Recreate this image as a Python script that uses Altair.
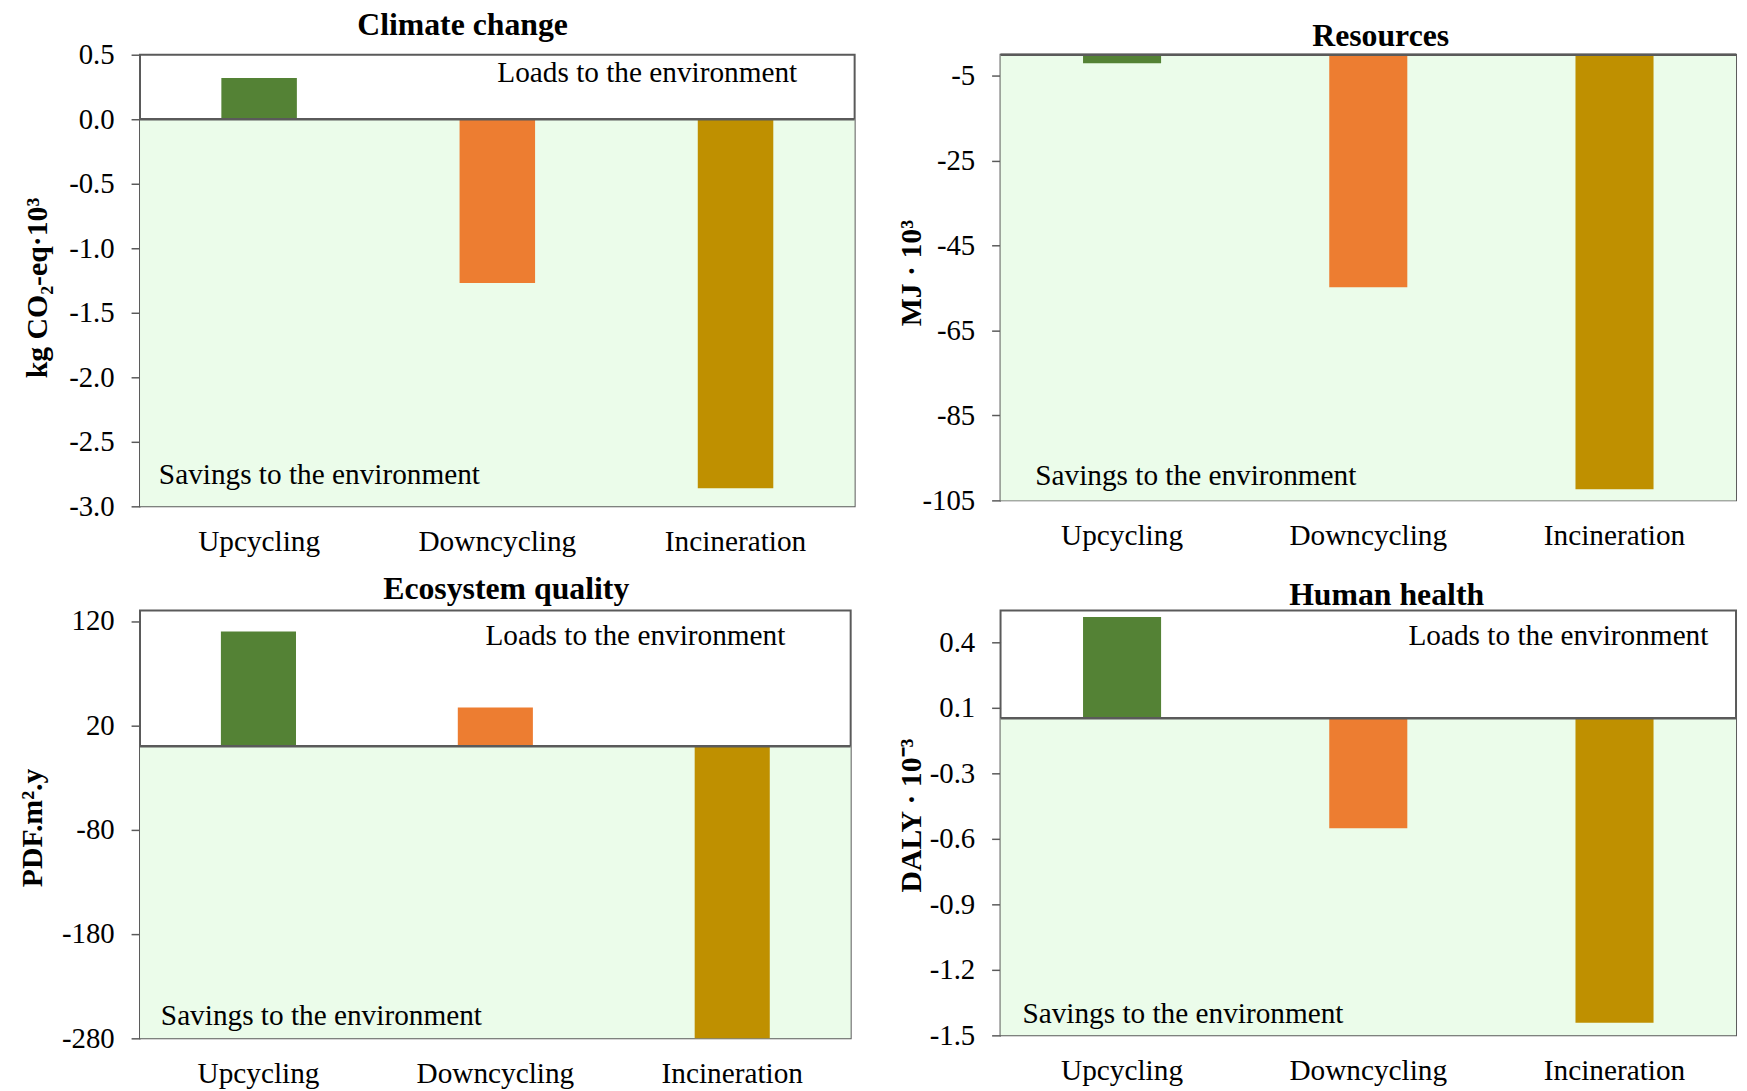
import altair as alt
import pandas as pd

# ---------------- data ----------------
categories = ["Upcycling", "Downcycling", "Incineration"]
bar_colors = ["#548235", "#ED7D31", "#BF9000"]

panel_titles = ["Climate change", "Resources", "Ecosystem quality", "Human health"]
y_titles = ["kg CO₂-eq·10³", "MJ · 10³", "PDF.m².y", "DALY · 10⁻³"]

climate_values = [0.32, -1.27, -2.86]
resources_values = [-2.0, -54.8, -102.4]
ecosystem_values = [110.0, 37.0, -280.0]
health_values = [0.48, -0.52, -1.44]

climate_domain = [-3.0, 0.5]
resources_domain = [-105, 0]
ecosystem_domain = [-280, 130]
health_domain = [-1.5, 0.51]

climate_ticks = [-3.0, -2.5, -2.0, -1.5, -1.0, -0.5, 0.0, 0.5]
resources_ticks = [-105, -85, -65, -45, -25, -5]
ecosystem_ticks = [-280, -180, -80, 20, 120]
health_ticks = [-1.5, -1.19, -0.88, -0.57, -0.26, 0.05, 0.36]

loads_text = "Loads to the environment"
savings_text = "Savings to the environment"

# ---------------- style ----------------
FONT = "Liberation Serif"
GREEN_BG = "#EBFCEA"
FRAME = "#5A5A5A"
FS = 29.5


def text_layer(label, pos, align, size=FS, weight="normal"):
    return alt.Chart(pd.DataFrame({"t": [label]})).mark_text(
        align=align, baseline="alphabetic", font=FONT, fontSize=size,
        fontWeight=weight, color="black"
    ).encode(x=alt.value(pos[0]), y=alt.value(pos[1]), text="t:N")


def make_panel(title, ytitle, values, domain, ticks, fmt, width, height,
               title_pos, ext, ytitle_shift, outer_pad, loads_pos, savings_pos):
    df = pd.DataFrame({"category": categories, "value": values, "base": [0] * len(values)})
    yscale = alt.Scale(domain=domain, nice=False, zero=False)
    yaxis = alt.Axis(
        title=ytitle, values=ticks,
        labelExpr=f"replace(format(datum.value, '{fmt}'), '\u2212', '-')",
        titleFont=FONT, titleFontSize=30, titleFontWeight="bold", titleColor="black",
        titlePadding=0, minExtent=ext, maxExtent=ext, titleY=height / 2 + ytitle_shift,
        tickSize=9, tickColor=FRAME, tickWidth=1.5,
        domain=False, grid=False,
        labelFont=FONT, labelFontSize=29, labelColor="black", labelPadding=17,
    )
    bg = alt.Chart(pd.DataFrame({"lo": [domain[0]], "hi": [0]})).mark_rect(
        color=GREEN_BG
    ).encode(
        y=alt.Y("lo:Q", scale=yscale, axis=yaxis),
        y2="hi:Q",
    )
    bars = alt.Chart(df).mark_bar().encode(
        x=alt.X("category:N", sort=categories,
                scale=alt.Scale(paddingInner=0.683, paddingOuter=outer_pad),
                axis=alt.Axis(title=None, ticks=False, domain=False, labelAngle=0,
                              labelFont=FONT, labelFontSize=FS, labelColor="black",
                              labelPadding=21)),
        y=alt.Y("value:Q", scale=yscale, axis=yaxis),
        y2="base:Q",
        color=alt.Color("category:N", scale=alt.Scale(domain=categories, range=bar_colors),
                        legend=None),
    )
    zero = alt.Chart(pd.DataFrame({"zero": [0]})).mark_rule(
        color=FRAME, strokeWidth=2.5
    ).encode(y=alt.Y("zero:Q", scale=yscale, axis=yaxis))
    layers = [bg, bars, zero]
    if loads_pos is not None:
        layers.append(text_layer(loads_text, loads_pos, "left"))
    if savings_pos is not None:
        layers.append(text_layer(savings_text, savings_pos, "left"))
    layers.append(text_layer(title, title_pos, "center", size=32, weight="bold"))
    return alt.layer(*layers).properties(width=width, height=height)


p1 = make_panel(panel_titles[0], y_titles[0], climate_values, climate_domain, climate_ticks,
                ".1f", 720, 455, (325, -20), 88, 7, 0.3415, (360, 27), (19, 432))
p2 = make_panel(panel_titles[1], y_titles[1], resources_values, resources_domain, resources_ticks,
                "d", 741, 449, (383, -9), 75, -5, 0.335, None, (35, 434))
p3 = make_panel(panel_titles[2], y_titles[2], ecosystem_values, ecosystem_domain, ecosystem_ticks,
                "d", 716, 431, (369, -12), 93, 3, 0.3415, (348, 35), (21, 418))
p4 = make_panel(panel_titles[3], y_titles[3], health_values, health_domain, health_ticks,
                ".1f", 741, 428, (389, -6), 75, -8, 0.335, (411, 35), (22, 416))

chart = alt.concat(p1, p2, p3, p4, columns=2, spacing={"row": 105, "column": 147},
                   bounds="flush").configure(
    font=FONT, background="white",
    padding={"left": 9, "top": -4, "right": 0, "bottom": 0},
).configure_view(
    stroke=FRAME, strokeWidth=2
)

chart.save("out.html", embed_options={"renderer": "svg", "actions": False})
